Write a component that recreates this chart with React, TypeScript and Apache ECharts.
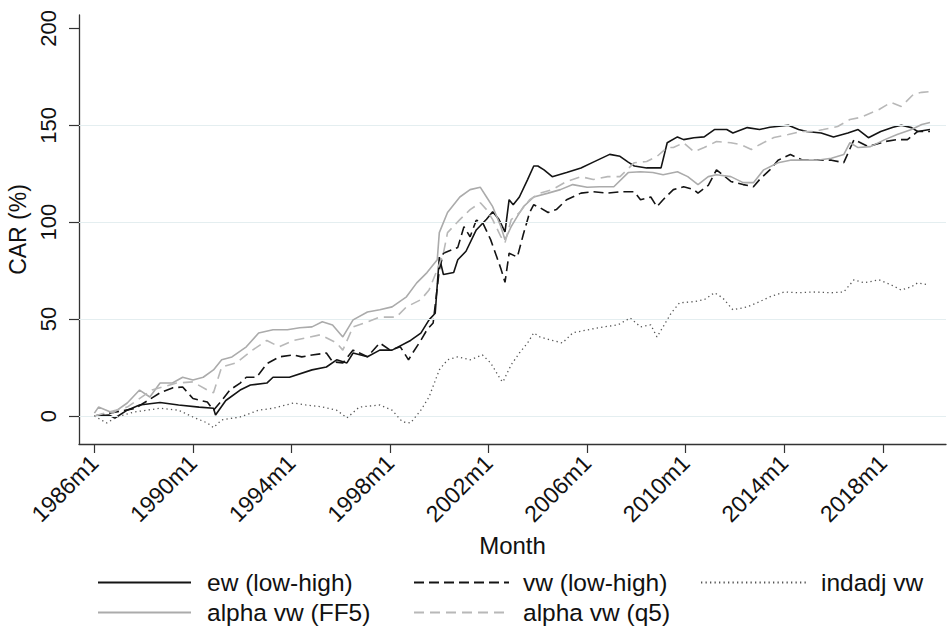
import React, { useEffect, useRef } from "react";
import * as echarts from "echarts";

const startYear = 1986;
const xTickMonths = [0, 48, 96, 144, 192, 240, 288, 336, 384];
const yTickValues = [0, 50, 100, 150, 200];
const gridValues = [0, 50, 100, 150];

const seriesNames = ["ew (low-high)", "vw (low-high)", "indadj vw", "alpha vw (FF5)", "alpha vw (q5)"];

// [month index since 1986m1, CAR %]
const ewData = [
  [0, 0], [7, 0.5], [10, -1], [16, 3], [22, 5.7], [32, 7], [41, 5.7], [51, 4.6], [58, 4], [59, 0.5],
  [64, 8], [71, 13.4], [76, 16], [84, 17], [87, 20], [95, 20], [106, 23.8], [113, 25.3], [118, 29], [123, 27.4],
  [126, 32.5], [133, 30.6], [139, 34], [145, 34], [154, 39], [159, 42.8], [163, 49.6], [166, 53], [168, 82], [170, 73],
  [175, 74], [177, 80.6], [181, 85], [186, 96], [191, 101.5], [194, 105.4], [197, 101.5], [200, 95], [202, 111.6], [204, 109],
  [207, 113], [211, 122], [214, 129], [216, 129], [219, 127], [223, 123.5], [230, 125.6], [237, 128], [243, 131], [251, 135],
  [256, 134], [260, 131], [263, 129], [269, 128], [276, 128], [279, 141], [284, 144], [287, 142.6], [292, 143.6], [297, 144],
  [302, 147.8], [308, 147.8], [311, 146], [318, 148.8], [324, 147.8], [329, 149], [338, 150], [343, 147.8], [347, 146.8], [354, 146],
  [360, 144], [367, 146], [372, 147.8], [377, 143.6], [383, 146.8], [389, 149], [393, 150], [398, 148.8], [401, 146.8], [407, 147.8],
];

const vwData = [
  [0, 0], [20, 4], [32, 12], [38, 14.5], [43, 15], [48, 9], [55, 7.2], [58, 3], [61, 6.7], [66, 13.4],
  [71, 17], [74, 20], [79, 20], [84, 27], [90, 30.5], [97, 31.5], [101, 30.5], [106, 31.5], [113, 32.5], [116, 28],
  [121, 27.4], [126, 34], [133, 30.6], [139, 37.7], [144, 34], [149, 35.7], [153, 29], [155, 32.5], [159, 39], [162, 44.5],
  [165, 48], [168, 75.5], [170, 84], [177, 87], [180, 97.7], [183, 92.5], [186, 101], [189, 100], [193, 91], [196, 82],
  [198, 76], [200, 69], [202, 84], [206, 82], [209, 94], [212, 105], [214, 109], [217, 107.5], [221, 105], [225, 106.5],
  [230, 111.6], [237, 115], [243, 115.7], [250, 115], [256, 115.7], [263, 115.7], [266, 111.6], [271, 113], [274, 108], [277, 111.6],
  [282, 116.8], [287, 118.3], [292, 116.8], [294, 115], [299, 119], [303, 127], [306, 124.5], [310, 121], [316, 119.4], [321, 118.3],
  [324, 122], [329, 127], [333, 132], [339, 134.9], [345, 132], [354, 132], [359, 132], [365, 130.7], [370, 142.6], [377, 139],
  [385, 141.6], [391, 142.6], [396, 142.6], [401, 146.8], [407, 146.8],
];

const indadjData = [
  [0, 0], [6, -3.6], [11, -0.5], [19, 2], [32, 4], [41, 3], [48, -0.5], [55, -3.6], [58, -6], [62, -2],
  [71, -0.5], [80, 3], [87, 4], [97, 6.7], [103, 5.7], [111, 4.7], [118, 3], [123, -1], [129, 4.6], [139, 5.7],
  [145, 3], [150, -3], [154, -3.6], [159, 3], [163, 9.8], [168, 23.8], [172, 29], [177, 30.5], [183, 29], [189, 31.5],
  [193, 27.4], [198, 18.6], [199, 17.6], [203, 26.4], [207, 32.5], [211, 37.7], [214, 42.9], [217, 40.8], [222, 39.3], [228, 37.7],
  [233, 42.9], [240, 44.4], [248, 46], [255, 47], [261, 50.6], [266, 46], [271, 47], [274, 40.8], [277, 46], [281, 53.2],
  [285, 58.4], [292, 59], [297, 60], [302, 63.6], [306, 61], [311, 54.8], [318, 56.3], [324, 59], [329, 61.5], [336, 64],
  [343, 63.6], [350, 64], [359, 63.6], [365, 64], [370, 70.3], [375, 68.7], [382, 70.3], [388, 67.7], [393, 65], [398, 66.7],
  [401, 68.7], [406, 67.7],
];

const ff5Data = [
  [0, 1.5], [2, 4.6], [9, 1.5], [16, 6.7], [22, 13.4], [27, 9.8], [32, 17], [38, 17], [43, 20], [48, 18.6],
  [53, 20], [58, 23.8], [62, 29], [67, 30.5], [74, 35.7], [80, 42.8], [87, 44.5], [94, 44.5], [100, 45.5], [106, 46],
  [111, 48.6], [116, 47], [121, 40.8], [126, 49.6], [133, 53.7], [139, 54.8], [145, 56.3], [152, 61.5], [157, 68.7], [162, 74],
  [167, 80.6], [168, 94.6], [172, 105], [178, 113], [183, 116.8], [188, 118], [191, 113], [194, 108], [198, 97.7], [200, 91],
  [203, 97.7], [206, 103], [209, 108], [214, 113], [221, 115], [227, 116.8], [233, 119.4], [240, 118], [246, 118.3], [253, 118.3],
  [260, 125.6], [266, 126], [272, 125.6], [277, 124.5], [284, 126], [289, 123.5], [294, 119.4], [299, 123.5], [303, 124.5], [310, 123.5],
  [316, 120.4], [321, 120.4], [326, 127], [333, 130.7], [339, 132], [345, 132], [352, 132], [359, 133], [365, 134.9], [368, 141],
  [372, 138.5], [378, 139], [385, 142.6], [391, 145.2], [398, 147.8], [403, 150.4], [407, 151.4],
];

const q5Data = [
  [0, 0], [16, 4.6], [28, 13.4], [40, 17], [48, 17.6], [55, 13.4], [58, 12], [62, 25.3], [69, 27.4], [77, 34],
  [84, 39], [90, 35.7], [97, 39], [103, 40.3], [110, 41.9], [118, 37.7], [121, 34], [126, 46], [133, 48.6], [139, 51],
  [147, 51], [152, 56.3], [159, 60], [163, 65], [167, 75.5], [170, 84], [172, 94.6], [178, 101.3], [183, 106.5], [188, 110],
  [191, 106.5], [194, 101.3], [198, 92.5], [200, 89.4], [203, 101.3], [207, 104.9], [212, 111.6], [217, 115], [223, 116.8], [230, 121],
  [237, 123.5], [243, 122], [250, 123.5], [256, 123.5], [263, 130.7], [269, 131.3], [274, 133.9], [279, 138.5], [282, 138.5], [287, 141],
  [292, 136.4], [297, 138.5], [303, 141.6], [310, 141], [315, 140], [320, 137.5], [324, 140], [331, 143.7], [338, 145.2], [344, 146.8],
  [350, 146.8], [355, 147.8], [362, 149.4], [368, 153], [373, 154], [382, 158], [388, 161.8], [393, 159.7], [399, 166], [403, 167],
  [407, 167.4],
];

const FONT = '"Liberation Sans", Arial, Helvetica, sans-serif';
const TXT = "#111";

export default function App() {
  const ref = useRef<HTMLDivElement>(null);

  useEffect(() => {
    document.body.style.margin = "0";
    if (!ref.current) return;
    const chart = echarts.init(ref.current, undefined, { renderer: "svg" });

    const seriesData = [ewData, vwData, indadjData, ff5Data, q5Data];
    const styles = [
      { color: "#141414", width: 1.6, type: "solid" as any },
      { color: "#141414", width: 1.6, type: [10, 5] as any },
      { color: "#555555", width: 1.3, type: [1.3, 3.2] as any },
      { color: "#ababab", width: 1.6, type: "solid" as any },
      { color: "#b8b8b8", width: 1.6, type: [10, 6] as any },
    ];

    const legendPos = [
      { left: 97, top: 570, w: 93, gap: 16 },
      { left: 413, top: 570, w: 95, gap: 14 },
      { left: 700, top: 570, w: 105, gap: 15 },
      { left: 97, top: 600, w: 93, gap: 16 },
      { left: 413, top: 600, w: 95, gap: 14 },
    ];

    const option: any = {
      animation: false,
      backgroundColor: "#ffffff",
      textStyle: { fontFamily: FONT, color: TXT },
      grid: { left: 79, right: 5, top: 15, bottom: 186, containLabel: false, outerBoundsMode: "none" },
      legend: seriesNames.map((n, i) => ({
        data: [n],
        left: legendPos[i].left,
        top: legendPos[i].top,
        orient: "horizontal",
        padding: 0,
        itemWidth: legendPos[i].w,
        itemHeight: 24,
        selectedMode: false,
        itemStyle: { opacity: 0 },
        textStyle: { fontSize: 24.5, color: TXT, fontFamily: FONT, padding: [0, 0, 0, legendPos[i].gap - 5] },
      })),
      xAxis: {
        type: "value",
        min: -7.5,
        max: 414.8,
        axisLine: { show: true, onZero: false, lineStyle: { color: "#333", width: 1.3 } },
        axisTick: { show: true, length: 9, customValues: xTickMonths, lineStyle: { color: "#333", width: 1.2 } },
        axisLabel: {
          customValues: xTickMonths,
          rotate: 45,
          margin: 15,
          fontSize: 23,
          color: TXT,
          fontFamily: FONT,
          formatter: (v: number) => `${startYear + Math.round(v / 12)}m1`,
        },
        splitLine: { show: false },
        name: "Month",
        nameLocation: "middle",
        nameGap: 89,
        nameTextStyle: { fontSize: 24, color: TXT, fontFamily: FONT },
      },
      yAxis: {
        type: "value",
        min: -14.44,
        max: 206.9,
        axisLine: { show: true, onZero: false, lineStyle: { color: "#333", width: 1.3 } },
        axisTick: { show: true, length: 10, customValues: yTickValues, lineStyle: { color: "#333", width: 1.2 } },
        axisLabel: {
          customValues: yTickValues,
          rotate: 90,
          margin: 20,
          fontSize: 22,
          color: TXT,
          fontFamily: FONT,
        },
        splitLine: { show: false },
        name: "CAR (%)",
        nameLocation: "middle",
        nameGap: 45,
        nameTextStyle: { fontSize: 23, color: TXT, fontFamily: FONT },
      },
      series: [
        {
          type: "line",
          name: "gridlines",
          data: [],
          silent: true,
          z: 1,
          markLine: {
            silent: true,
            symbol: ["none", "none"],
            label: { show: false },
            lineStyle: { color: "#e4eef0", width: 1.2, type: "solid" },
            data: gridValues.map((v) => ({ yAxis: v })),
          },
        },
        ...seriesNames.map((n, i) => ({
          type: "line",
          name: n,
          data: seriesData[i],
          symbol: "none",
          showSymbol: false,
          silent: true,
          z: 3 + i,
          lineStyle: styles[i],
          itemStyle: { color: styles[i].color },
        })),
      ],
    };

    chart.setOption(option);
    return () => chart.dispose();
  }, []);

  return (
    <div
      ref={ref}
      style={{ position: "absolute", left: 0, top: 0, width: 951, height: 630, background: "#fff" }}
    />
  );
}
